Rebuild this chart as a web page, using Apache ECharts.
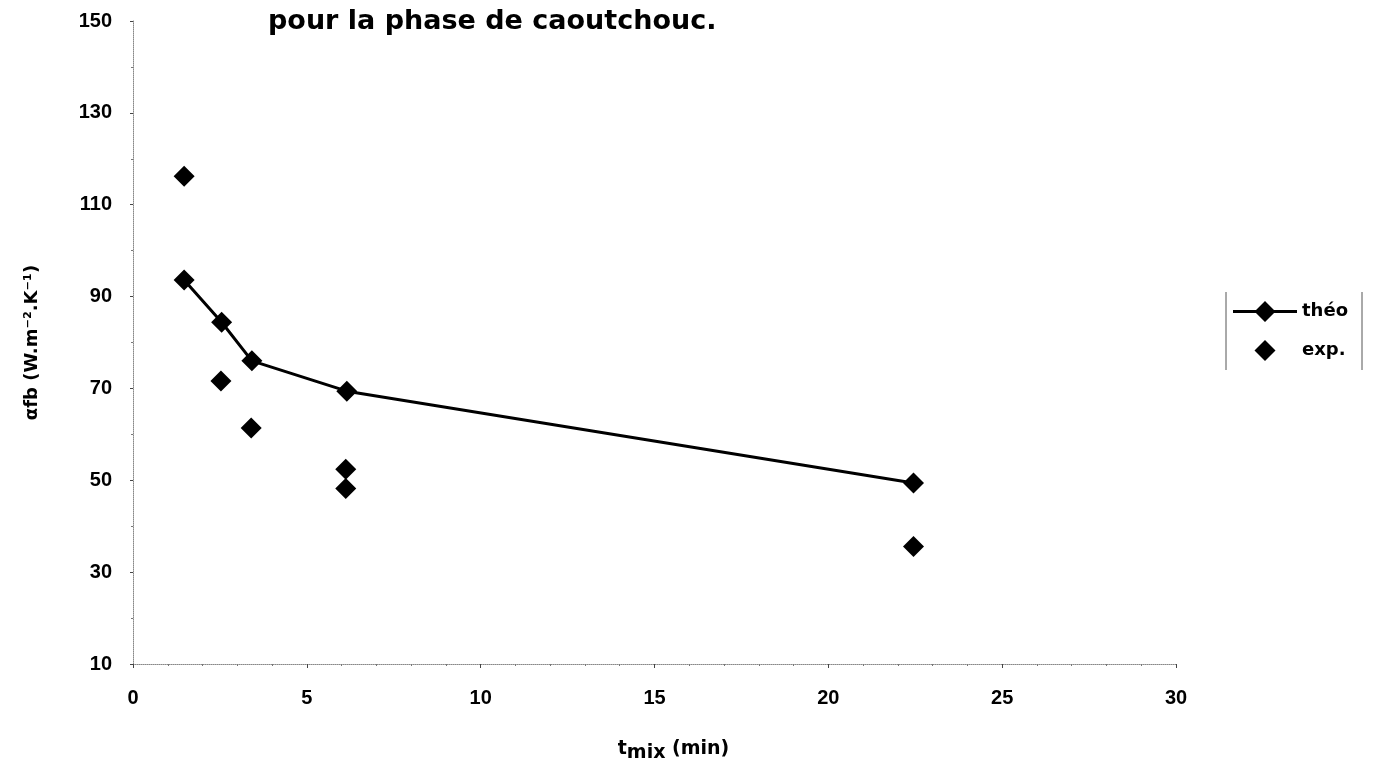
<!DOCTYPE html>
<html><head><meta charset="utf-8">
<script src="https://cdn.jsdelivr.net/npm/echarts@6/dist/echarts.min.js"></script>
<style>html,body{margin:0;padding:0;background:#fff}#c{width:1373px;height:775px}</style>
</head><body><div id="c"></div>
<script>
const theoX = [1.47, 2.55, 3.42, 6.15, 22.45];
const theoY = [93.6, 84.4, 76.0, 69.4, 49.4];
const expX = [1.47, 2.53, 3.40, 6.12, 6.12, 22.45];
const expY = [116.2, 71.6, 61.4, 52.4, 48.2, 35.6];
const xTicks = [0, 5, 10, 15, 20, 25, 30];
const yTicks = [10, 30, 50, 70, 90, 110, 130, 150];

const chart = echarts.init(document.getElementById('c'));
const font = 'Liberation Sans, Arial, sans-serif';
const wide = 'DejaVu Sans, sans-serif';
const diamond = 'path://M32,0L42.5,10.5L32,21L21.5,10.5Z';
const lineDiamond = 'path://M0,9L64,9L64,12L0,12ZM32,0L42.5,10.5L32,21L21.5,10.5Z';
chart.setOption({
  animation: false,
  backgroundColor: '#fff',
  title: {
    text: 'pour la phase de caoutchouc.',
    left: 263, top: 3,
    textStyle: { fontFamily: wide, fontWeight: 'bold', fontSize: 27, color: '#000' }
  },
  grid: { left: 133, right: 197, top: 21, bottom: 111 },
  legend: {
    left: 1233, top: 301, orient: 'vertical', itemGap: 18, padding: 0,
    itemWidth: 64, itemHeight: 21, symbolKeepAspect: true,
    textStyle: { fontFamily: wide, fontWeight: 'bold', fontSize: 18, color: '#000' },
    data: [{ name: 'théo', icon: lineDiamond }, { name: 'exp.', icon: diamond }]
  },
  graphic: [
    { type: 'line', shape: { x1: 1226, y1: 292, x2: 1226, y2: 370 }, style: { stroke: '#555', lineWidth: 1 } },
    { type: 'line', shape: { x1: 1362, y1: 292, x2: 1362, y2: 370 }, style: { stroke: '#555', lineWidth: 1 } }
  ],
  xAxis: {
    type: 'value', min: 0, max: 30, interval: 5,
    name: '{t|t}{s|mix}{t| (min)}', nameLocation: 'middle', nameGap: 72,
    nameTextStyle: { padding: [0, 0, 0, 38], rich: {
      t: { fontFamily: wide, fontWeight: 'bold', fontSize: 19, color: '#000' },
      s: { fontFamily: wide, fontWeight: 'bold', fontSize: 19, color: '#000', padding: [8, 0, 0, 0] }
    } },
    axisLine: { show: true, lineStyle: { color: '#888', type: 'dotted', width: 1 } },
    axisTick: { show: true, length: 4, lineStyle: { color: '#444' } },
    minorTick: { show: true, splitNumber: 5, length: 2, lineStyle: { color: '#777' } },
    splitLine: { show: false },
    axisLabel: { margin: 24, fontFamily: font, fontWeight: 'bold', fontSize: 20, color: '#000',
      formatter: v => xTicks.includes(v) ? String(v) : '' }
  },
  yAxis: {
    type: 'value', min: 10, max: 150, interval: 20,
    name: 'αfb (W.m⁻².K⁻¹)', nameLocation: 'middle', nameGap: 92, nameRotate: 90,
    nameTextStyle: { fontFamily: wide, fontWeight: 'bold', fontSize: 18, color: '#000' },
    axisLine: { show: true, lineStyle: { color: '#888', type: 'dotted', width: 1 } },
    axisTick: { show: true, length: 3, lineStyle: { color: '#444' } },
    minorTick: { show: true, splitNumber: 2, length: 2, lineStyle: { color: '#777' } },
    splitLine: { show: false },
    axisLabel: { margin: 21, fontFamily: font, fontWeight: 'bold', fontSize: 20, color: '#000',
      formatter: v => yTicks.includes(v) ? String(v) : '' }
  },
  series: [
    { name: 'théo', type: 'line', data: theoX.map((x, i) => [x, theoY[i]]),
      symbol: 'diamond', symbolSize: 21,
      lineStyle: { color: '#000', width: 3 }, itemStyle: { color: '#000', opacity: 1 } },
    { name: 'exp.', type: 'scatter', data: expX.map((x, i) => [x, expY[i]]),
      symbol: 'diamond', symbolSize: 21, itemStyle: { color: '#000', opacity: 1 } }
  ]
});
</script></body></html>
